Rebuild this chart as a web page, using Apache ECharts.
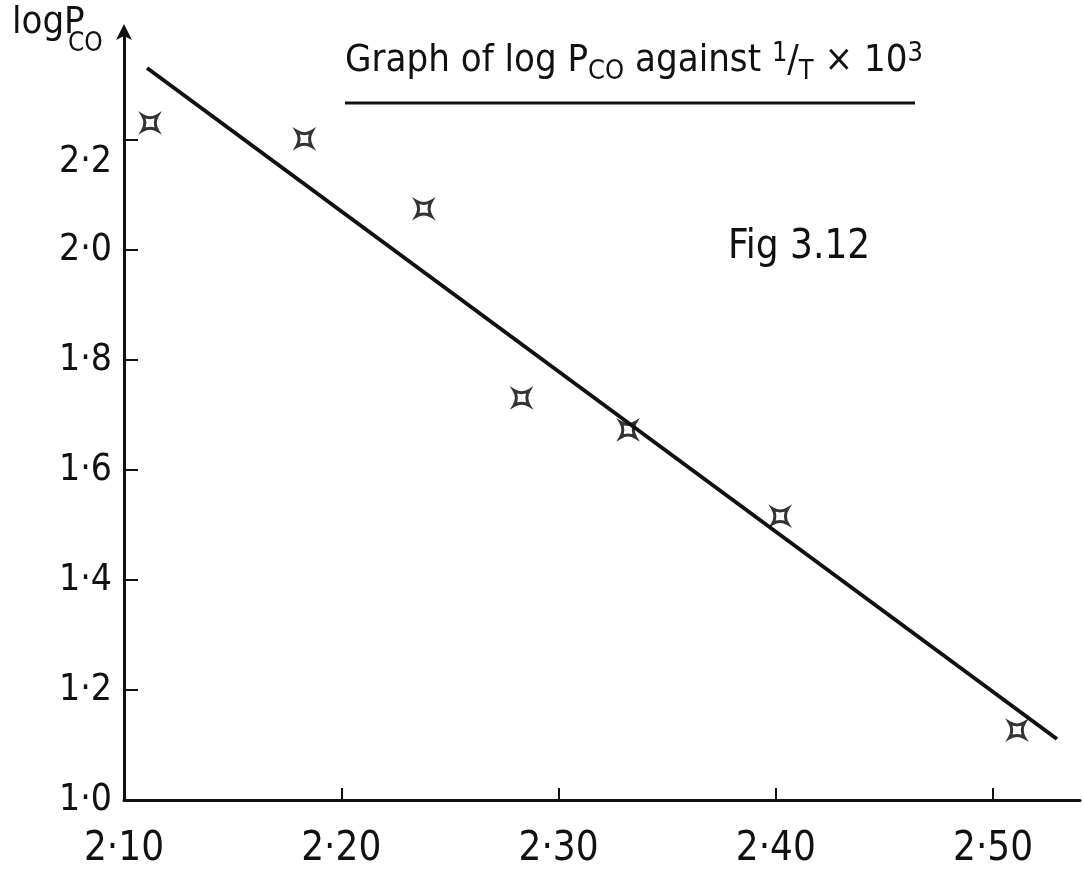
<!DOCTYPE html>
<html>
<head>
<meta charset="utf-8">
<script src="https://cdn.jsdelivr.net/npm/echarts@6/dist/echarts.min.js"></script>
<style>html,body{margin:0;padding:0;background:#fff}#c{width:1084px;height:873px}</style>
</head>
<body>
<div id="c"></div>
<script>
// Data
var invT = [2.112, 2.183, 2.238, 2.283, 2.332, 2.402, 2.511];
var logPco = [2.231, 2.202, 2.075, 1.731, 1.673, 1.516, 1.127];
var fitX = [2.1106, 2.5294];
var fitY = [2.3309, 1.1109];
var xTicks = [2.1, 2.2, 2.3, 2.4, 2.5];
var xTickLabels = ['2·10', '2·20', '2·30', '2·40', '2·50'];
var yTicks = [1.0, 1.2, 1.4, 1.6, 1.8, 2.0, 2.2];
var yTickLabels = ['1·0', '1·2', '1·4', '1·6', '1·8', '2·0', '2·2'];

var FONT = '"DejaVu Sans Condensed", "Liberation Sans Narrow", "Liberation Sans", sans-serif';
var INK = '#111';

function lookup(ticks, labels, v) {
  for (var i = 0; i < ticks.length; i++) {
    if (Math.abs(ticks[i] - v) < 1e-6) return labels[i];
  }
  return '';
}

var chart = echarts.init(document.getElementById('c'));
chart.setOption({
  animation: false,
  backgroundColor: '#fff',
  grid: { left: 124, right: 4, top: 30, bottom: 73 },
  xAxis: {
    type: 'value', min: 2.1, max: 2.54, interval: 0.1,
    splitLine: { show: false },
    axisLine: { lineStyle: { color: INK, width: 3 } },
    axisTick: { inside: true, length: 12, lineStyle: { color: INK, width: 2 }, customValues: xTicks },
    axisLabel: {
      customValues: xTicks,
      formatter: function (v) { return lookup(xTicks, xTickLabels, v); },
      color: INK, fontFamily: FONT, fontSize: 40, margin: 30
    }
  },
  yAxis: {
    type: 'value', min: 1.0, max: 2.4, interval: 0.2,
    splitLine: { show: false },
    axisLine: { symbol: ['none', 'arrow'], symbolSize: [12, 16], symbolOffset: [0, 6], lineStyle: { color: INK, width: 3 } },
    axisTick: { inside: true, length: 14, lineStyle: { color: INK, width: 2 }, customValues: yTicks },
    axisLabel: {
      customValues: yTicks,
      formatter: function (v) {
        var s = lookup(yTicks, yTickLabels, v);
        return Math.abs(v - 2.2) < 1e-6 ? '{low|' + s + '}' : s;
      },
      rich: { low: { fontFamily: FONT, fontSize: 37, color: INK, padding: [44, 0, 0, 0] } },
      color: INK, fontFamily: FONT, fontSize: 37, margin: 12
    }
  },
  graphic: [
    {
      type: 'text', left: 12, top: 4,
      style: { text: 'logP', fontFamily: FONT, fontSize: 38, fill: INK }
    },
    {
      type: 'text', left: 68, top: 31,
      style: { text: 'CO', fontFamily: FONT, fontSize: 26, fill: INK }
    },
    {
      type: 'text', left: 345, top: 40,
      style: {
        text: 'Graph of log P{sub|CO} against {sup|1}/{sub|T} × 10{sup|3}',
        fontFamily: FONT, fontSize: 38, fill: INK,
        rich: {
          sub: { fontFamily: FONT, fontSize: 27, fill: INK, padding: [20, 0, 0, 0] },
          sup: { fontFamily: FONT, fontSize: 27, fill: INK, padding: [0, 0, 16, 0] }
        }
      }
    },
    {
      type: 'line', shape: { x1: 345, y1: 103, x2: 915, y2: 103 },
      style: { stroke: INK, lineWidth: 3 }
    },
    {
      type: 'text', left: 728, top: 228,
      style: { text: 'Fig 3.12', fontFamily: FONT, fontSize: 40, fill: INK }
    }
  ],
  series: [
    {
      type: 'line',
      data: fitX.map(function (x, i) { return [x, fitY[i]]; }),
      showSymbol: false, symbol: 'none',
      lineStyle: { color: INK, width: 4 }
    },
    {
      type: 'scatter',
      data: invT.map(function (x, i) { return [x, logPco[i]]; }),
      symbol: 'path://M-10,-10 Q0,-4 10,-10 Q4,0 10,10 Q0,4 -10,10 Q-4,0 -10,-10 Z',
      symbolSize: 15,
      itemStyle: { color: 'rgba(0,0,0,0)', borderColor: '#000', borderWidth: 3 }
    }
  ]
});
</script>
</body>
</html>
